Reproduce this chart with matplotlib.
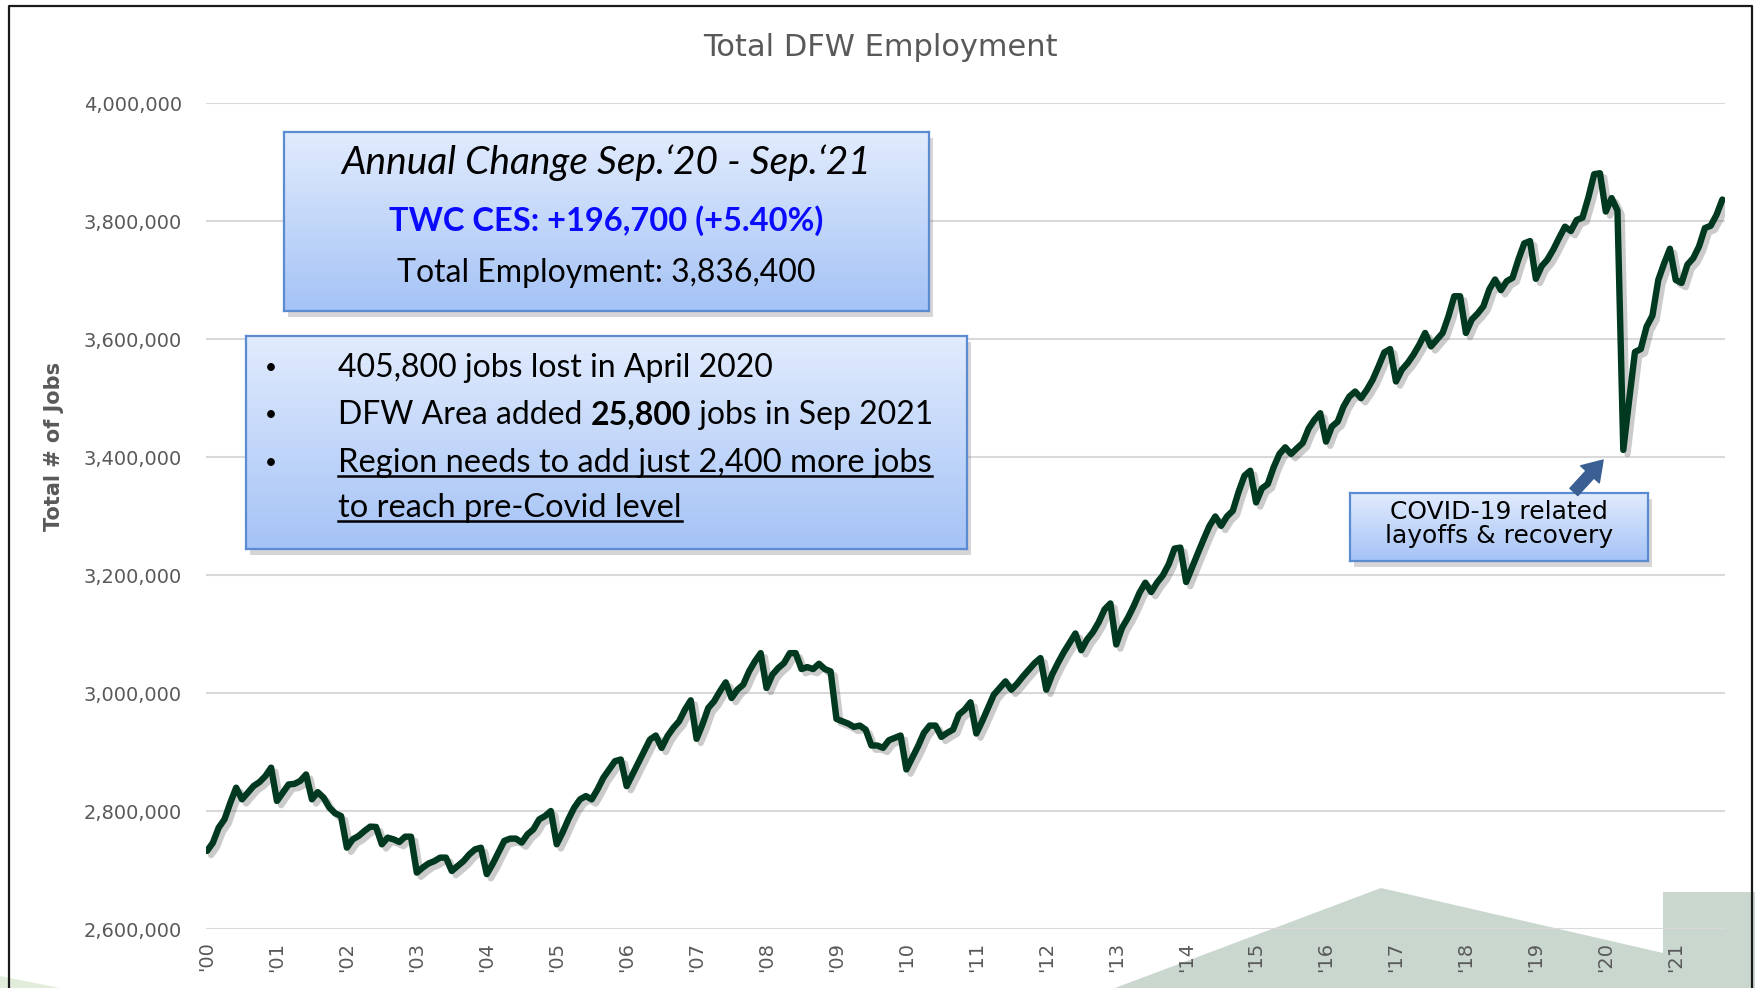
import numpy as np
import matplotlib.pyplot as plt
from matplotlib import patheffects as pe
from matplotlib.colors import LinearSegmentedColormap
from matplotlib.patches import Polygon, Rectangle, FancyArrowPatch
from matplotlib.lines import Line2D
from matplotlib.ticker import FuncFormatter

W, H = 1756, 988

# monthly DFW nonfarm employment, Jan 2000 - Sep 2021
jobs_2000s = [
    2732200, 2746000, 2771700, 2785900, 2814000, 2839500, 2819800, 2831000, 2842400, 2849000, 2859000, 2873500,
    2817000, 2831000, 2845000, 2846000, 2851000, 2862000, 2819800, 2832000, 2822600, 2805600, 2796000, 2791500,
    2737900, 2752000, 2757600, 2766000, 2773500, 2773000, 2743500, 2754800, 2752000, 2747500, 2756500, 2756500,
    2695500, 2704000, 2711000, 2715000, 2721000, 2721000, 2698300, 2706800, 2715000, 2726500, 2735000, 2737800,
    2693000, 2710000, 2729600, 2749300, 2753200, 2753200, 2746500, 2760600, 2769000, 2785900, 2791500, 2800000,
    2743600, 2763400, 2785900, 2805600, 2819700, 2825300, 2819700, 2836600, 2856300, 2870400, 2884500, 2887300,
    2842200, 2862000, 2881700, 2901400, 2921100, 2927900, 2907000, 2926800, 2940800, 2952100, 2971800, 2987600,
    2922300, 2946500, 2974600, 2985900, 3002800, 3018000, 2991500, 3005600, 3014100, 3036600, 3053500, 3067600,
    3008500, 3031000, 3042300, 3050700, 3067600, 3067600, 3040600, 3043900, 3040600, 3049600, 3040600, 3036600,
    2956000, 2952100, 2948200, 2942500, 2944800, 2938000, 2911000, 2911000, 2907000, 2920000, 2924000, 2927900,
]
jobs_2010s = [
    2870400, 2890100, 2909900, 2932400, 2944800, 2944800, 2925600, 2932400, 2938000, 2963400, 2971800, 2984200,
    2931300, 2952100, 2974600, 2997200, 3008500, 3019700, 3005600, 3015800, 3028200, 3039400, 3050700, 3059200,
    3005600, 3031200, 3051000, 3069100, 3085000, 3100900, 3072500, 3090700, 3103100, 3120100, 3141700, 3151800,
    3082200, 3110500, 3127500, 3147300, 3170000, 3187000, 3171100, 3187000, 3199400, 3218100, 3244800, 3246500,
    3188100, 3212500, 3236800, 3260600, 3283300, 3299200, 3283300, 3299200, 3308800, 3341100, 3368300, 3376800,
    3323000, 3346800, 3354200, 3382400, 3405100, 3416400, 3405100, 3414700, 3423800, 3448000, 3463000, 3474200,
    3426000, 3451600, 3460000, 3485600, 3502500, 3511000, 3499700, 3513900, 3530900, 3553500, 3577300, 3583000,
    3528000, 3547900, 3559200, 3573400, 3590400, 3610200, 3587500, 3598900, 3610200, 3638500, 3672500, 3672500,
    3610200, 3632900, 3643100, 3655500, 3683900, 3700900, 3682700, 3698000, 3703700, 3734800, 3762000, 3766000,
    3702000, 3723500, 3734800, 3751800, 3771700, 3790400, 3783000, 3801700, 3805700, 3839700, 3879300, 3881000,
]
jobs_2020s = [
    3816000, 3838800, 3817800, 3412000, 3496000, 3578000, 3583000, 3621000, 3639700, 3700000, 3728000, 3753000,
    3700000, 3695000, 3726000, 3737000, 3757000, 3788000, 3792000, 3810600, 3836400,
]

year_labels = ["'%02d" % y for y in range(22)]
y_ticks = [2600000, 2800000, 3000000, 3200000, 3400000, 3600000, 3800000, 4000000]

employment = np.array(jobs_2000s + jobs_2010s + jobs_2020s)
years = np.arange(len(employment)) / 12.0

GRAY = '#595959'
LINE = '#00391f'
BOX_EDGE = '#5b8bd0'
box_cmap = LinearSegmentedColormap.from_list('boxfill', ['#e1ebfd', '#a5c3f6'])


def fig_rect(x0, y0, x1, y1):
    """pixel box (top-left origin) -> figure fraction [left, bottom, w, h]"""
    return [x0 / W, 1 - y1 / H, (x1 - x0) / W, (y1 - y0) / H]


def fpt(x, y):
    return x / W, 1 - y / H


fig = plt.figure(figsize=(W / 100, H / 100), dpi=100)

# background layer: corner shapes and frame
bg = fig.add_axes([0, 0, 1, 1], zorder=-1)
bg.set_xlim(0, W)
bg.set_ylim(H, 0)
bg.axis('off')
bg.add_patch(Polygon([(1115, 988), (1381, 888), (1663, 953), (1663, 892),
                      (1756, 892), (1756, 988)], closed=True, fc='#cad7cf', ec='none'))
bg.add_patch(Polygon([(0, 976), (60, 988), (0, 988)], closed=True, fc='#e2ecdb', ec='none'))
bg.plot([9, 9, 1752, 1752], [988, 6, 6, 988], color='#1a1a1a', lw=1.6)

# main chart
ax = fig.add_axes(fig_rect(205.6, 103, 1724.7, 929))
ax.patch.set_visible(False)
ax.plot(years, employment, color=LINE, lw=4.6, solid_joinstyle='round', solid_capstyle='round',
        zorder=3, path_effects=[pe.SimpleLineShadow(offset=(3, -3), shadow_color='#555555', alpha=0.3),
                                pe.Normal()])
ax.set_xlim(-0.02, 21.70)
ax.set_ylim(2600000, 4000000)
ax.set_yticks(y_ticks)
ax.yaxis.set_major_formatter(FuncFormatter(lambda v, p: f'{v:,.0f}'))
ax.set_xticks(range(len(year_labels)))
ax.set_xticklabels(year_labels, rotation=90)
ax.tick_params(axis='y', length=0, pad=17, labelsize=14, labelcolor=GRAY)
ax.tick_params(axis='x', length=0, pad=9, labelsize=14, labelcolor=GRAY)
ax.yaxis.grid(True, color='#d9d9d9', lw=1.5)
ax.set_axisbelow(True)
for s in ax.spines.values():
    s.set_visible(False)

fig.text(*fpt(880, 48), 'Total DFW Employment', ha='center', va='center', fontsize=22, color=GRAY)
fig.text(*fpt(54, 446), 'Total # of Jobs', ha='center', va='center', rotation=90,
         fontsize=15, fontweight='bold', color=GRAY)


def gradient_box(x0, y0, x1, y1):
    sh = Rectangle(fpt(x0 + 4, y1 + 6), (x1 - x0) / W, (y1 - y0) / H, transform=fig.transFigure,
                   fc='#8a8a8a', ec='none', alpha=0.35, zorder=1)
    fig.add_artist(sh)
    b = fig.add_axes(fig_rect(x0, y0, x1, y1), zorder=2)
    b.imshow(np.linspace(0, 1, 200).reshape(-1, 1), cmap=box_cmap, aspect='auto',
             extent=[0, 1, 0, 1], origin='upper')
    b.set_xticks([])
    b.set_yticks([])
    for s in b.spines.values():
        s.set_color(BOX_EDGE)
        s.set_linewidth(1.6)
    return b


BOXFONT = 'Lato'
FS = 23
gradient_box(284, 132, 929, 311)
gradient_box(246, 336, 967, 549)
gradient_box(1350, 493, 1648, 561)

fig.text(*fpt(606, 163), 'Annual Change Sep.\u201820 - Sep.\u201821', ha='center', va='center',
         fontsize=28, style='italic', family=BOXFONT, zorder=5)
fig.text(*fpt(606, 221), 'TWC CES: +196,700 (+5.40%)', ha='center', va='center',
         fontsize=23.5, fontweight='bold', color='#0a0aff', family=BOXFONT, zorder=5)
fig.text(*fpt(606, 273), 'Total Employment: 3,836,400', ha='center', va='center',
         fontsize=FS, family=BOXFONT, zorder=5)

for yb in (368, 415, 463):
    fig.text(*fpt(271, yb), '\u2022', ha='center', va='center', fontsize=15, family=BOXFONT, zorder=5)

fig.text(*fpt(338, 368), '405,800 jobs lost in April 2020', ha='left', va='center',
         fontsize=FS, family=BOXFONT, zorder=5)

renderer = fig.canvas.get_renderer()
inv = fig.transFigure.inverted()

# second bullet has a bold figure in the middle
xcur = 338 / W
for piece, weight in [('DFW Area added ', 'normal'), ('25,800', 'bold'), (' jobs in Sep 2021', 'normal')]:
    t = fig.text(xcur, 1 - 415 / H, piece, ha='left', va='center', fontsize=FS,
                 fontweight=weight, family=BOXFONT, zorder=5)
    bb = t.get_window_extent(renderer)
    xcur = inv.transform((bb.x1, bb.y0))[0]

for yb, line in [(463, 'Region needs to add just 2,400 more jobs'), (508, 'to reach pre-Covid level')]:
    t = fig.text(*fpt(338, yb), line, ha='left', va='center', fontsize=23.5, family=BOXFONT, zorder=5)
    bb = t.get_window_extent(renderer)
    x0, yl = inv.transform((bb.x0, bb.y0 + 2))
    x1, _ = inv.transform((bb.x1, bb.y0 + 2))
    fig.add_artist(Line2D([x0, x1], [yl, yl], transform=fig.transFigure, color='black', lw=1.8, zorder=5))

fig.text(*fpt(1499, 524), 'COVID-19 related\nlayoffs & recovery', ha='center', va='center',
         fontsize=18, linespacing=0.95, zorder=5)

arrow = FancyArrowPatch(fpt(1572, 494), fpt(1605, 458), transform=fig.transFigure,
                        arrowstyle='simple,head_width=1.3,head_length=1.0,tail_width=0.55',
                        mutation_scale=14, color='#3a5f93', zorder=5)
fig.add_artist(arrow)

fig.savefig('out.png', dpi=100)
